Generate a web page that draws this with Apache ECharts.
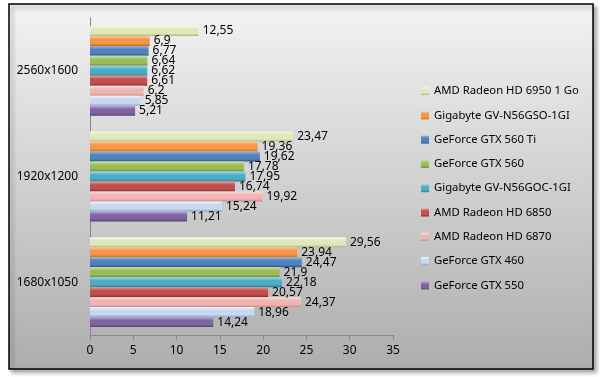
<!DOCTYPE html>
<html>
<head>
<meta charset="utf-8">
<script src="https://cdn.jsdelivr.net/npm/echarts@6/dist/echarts.min.js"></script>
<style>
  html, body { margin: 0; padding: 0; background: #fff; }
  #chart { width: 603px; height: 377px; }
</style>
</head>
<body>
<div id="chart"></div>
<script>
// resolutions, bottom to top on the axis
let categories = ['1680x1050', '1920x1200', '2560x1600'];

// cards, in the order they appear from the top of each group
let cards = [
    'AMD Radeon HD 6950 1 Go',
    'Gigabyte GV-N56GSO-1GI',
    'GeForce GTX 560 Ti',
    'GeForce GTX 560',
    'Gigabyte GV-N56GOC-1GI',
    'AMD Radeon HD 6850',
    'AMD Radeon HD 6870',
    'GeForce GTX 460',
    'GeForce GTX 550'
];

// fps per card: [1680x1050, 1920x1200, 2560x1600]
let hd6950 = [29.56, 23.47, 12.55];
let gso = [23.94, 19.36, 6.9];
let gtx560ti = [24.47, 19.62, 6.77];
let gtx560 = [21.9, 17.78, 6.64];
let goc = [22.18, 17.95, 6.62];
let hd6850 = [20.57, 16.74, 6.61];
let hd6870 = [24.37, 19.92, 6.2];
let gtx460 = [18.96, 15.24, 5.85];
let gtx550 = [14.24, 11.21, 5.21];

let values = [hd6950, gso, gtx560ti, gtx560, goc, hd6850, hd6870, gtx460, gtx550];

// light / base / dark for the bevel look
let palette = [
    ['#f3f8e0', '#dde8bb', '#a9bd7c'],
    ['#fcc99c', '#f79646', '#c8681a'],
    ['#9ab8dc', '#4f81bd', '#2f5382'],
    ['#cfe2a6', '#9bbb59', '#6a8a34'],
    ['#9fd8e8', '#4bacc6', '#2a7a90'],
    ['#e89896', '#c0504d', '#8a2d2b'],
    ['#fbe0df', '#f0b4b2', '#c98886'],
    ['#eef4fc', '#c6d9f1', '#8aa6cc'],
    ['#bba9d2', '#8064a2', '#54406f']
];

let bevel = c => new echarts.graphic.LinearGradient(0, 0, 0, 1, [
    { offset: 0, color: c[0] },
    { offset: 0.35, color: c[1] },
    { offset: 0.75, color: c[1] },
    { offset: 1, color: c[2] }
]);

let series = cards.map((name, i) => ({
    name: name,
    type: 'bar',
    data: values[i],
    barGap: '0%',
    barCategoryGap: '15%',
    itemStyle: { color: bevel(palette[i]) },
    label: {
        show: true,
        position: 'right',
        distance: 4,
        color: '#000',
        fontSize: 12,
        fontFamily: 'Noto Sans',
        formatter: p => String(p.value).replace('.', ',')
    }
}));

let chart = echarts.init(document.getElementById('chart'));
chart.setOption({
    animation: false,
    textStyle: { fontFamily: 'Noto Sans' },
    graphic: {
        elements: [{
            type: 'rect',
            z: -10,
            silent: true,
            shape: { x: 9, y: 4, width: 584, height: 365 },
            style: {
                fill: new echarts.graphic.LinearGradient(0, 0, 0, 1, [
                    { offset: 0, color: '#f3f3f3' },
                    { offset: 1, color: '#adadad' }
                ]),
                stroke: '#000',
                lineWidth: 1.5,
                shadowBlur: 4,
                shadowOffsetX: 3,
                shadowOffsetY: 3,
                shadowColor: 'rgba(0,0,0,0.35)'
            }
        }]
    },
    legend: {
        orient: 'vertical',
        left: 416,
        top: 79,
        icon: 'rect',
        itemWidth: 8,
        itemHeight: 8,
        itemGap: 10.3,
        textStyle: { fontSize: 11.3, lineHeight: 14, color: '#000', fontFamily: 'Noto Sans' }
    },
    grid: { left: 90, right: 210, top: 18, bottom: 42 },
    xAxis: {
        type: 'value',
        min: 0,
        max: 35,
        interval: 5,
        splitLine: { show: false },
        axisLine: { show: true, lineStyle: { color: '#868686' } },
        axisTick: { show: true, length: 5, lineStyle: { color: '#868686' } },
        axisLabel: { color: '#000', fontSize: 12, margin: 10 }
    },
    yAxis: {
        type: 'category',
        data: categories,
        axisLine: { lineStyle: { color: '#868686' } },
        axisTick: { length: 5, lineStyle: { color: '#868686' } },
        axisLabel: { color: '#000', fontSize: 12, margin: 12 }
    },
    series: series
});
</script>
</body>
</html>
